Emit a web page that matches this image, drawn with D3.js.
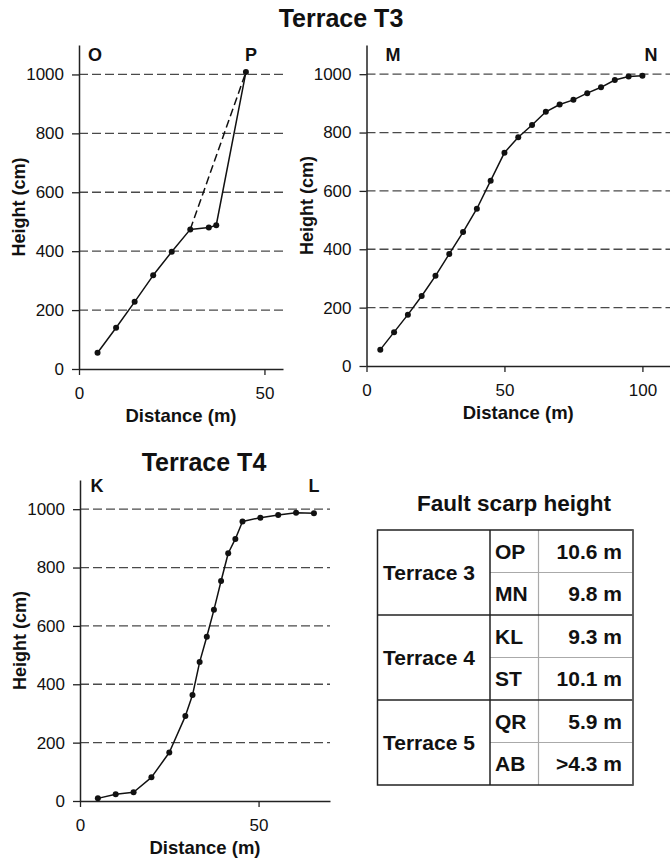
<!DOCTYPE html>
<html><head><meta charset="utf-8">
<script src="https://cdn.jsdelivr.net/npm/d3@7"></script>
<style>
body{margin:0;background:#fff}
text{font-family:"Liberation Sans",Arial,Helvetica,sans-serif;fill:#111}
</style>
</head><body>
<svg id="chart" width="670" height="864"></svg>
<script>
// ---- data ----
const opDistance = [5, 10, 15, 20, 25, 30, 35, 37, 45];
const opHeight   = [55, 140, 228, 318, 398, 474, 480, 488, 1008];
const opDashedFrom = 5, opDashedTo = 8;   // dashed shortcut between these points

const mnDistance = [5,10,15,20,25,30,35,40,45,50,55,60,65,70,75,80,85,90,95,100];
const mnHeight   = [56,116,176,240,309,384,459,539,635,731,784,826,871,896,912,935,955,980,992,995];

const klDistance = [5,10,15,20,25,29.5,31.5,33.5,35.5,37.5,39.5,41.5,43.5,45.5,50.5,55.5,60.5,65.5];
const klHeight   = [9,23,30,81,166,291,363,476,563,655,754,849,898,958,971,980,988,986];

const heightTicks = [0, 200, 400, 600, 800, 1000];
const gridTicks   = [200, 400, 600, 800, 1000];

const tableGroups   = ["Terrace 3", "Terrace 4", "Terrace 5"];
const tableProfiles = ["OP", "MN", "KL", "ST", "QR", "AB"];
const tableHeights  = ["10.6 m", "9.8 m", "9.3 m", "10.1 m", "5.9 m", ">4.3 m"];

// ---- drawing ----
const svg = d3.select("#chart");
const INK = "#111";

function panel(cfg){
  const x = d3.scaleLinear().domain([0, cfg.xMax]).range([cfg.left, cfg.right]);
  const y = d3.scaleLinear().domain([0, 1100]).range([cfg.bottom, cfg.top]);
  const g = svg.append("g");

  // gridlines
  g.selectAll("line.grid").data(gridTicks).join("line")
    .attr("x1", cfg.left).attr("x2", cfg.right)
    .attr("y1", d => y(d)).attr("y2", d => y(d))
    .attr("stroke", "#4a4a4a").attr("stroke-width", 1.3)
    .attr("stroke-dasharray", "9,4");

  // axes
  const ya = g.append("g").attr("transform", `translate(${cfg.left},0)`)
    .call(d3.axisLeft(y).tickValues(heightTicks).tickFormat(d3.format("d"))
      .tickSize(7).tickSizeOuter(0).tickPadding(8));
  const xa = g.append("g").attr("transform", `translate(0,${cfg.bottom})`)
    .call(d3.axisBottom(x).tickValues(cfg.xTicks).tickFormat(d3.format("d"))
      .tickSize(6).tickSizeOuter(0).tickPadding(12));
  [ya, xa].forEach(a => {
    a.select(".domain").attr("stroke", "#222").attr("stroke-width", 1.5);
    a.selectAll(".tick line").attr("stroke", "#222").attr("stroke-width", 1.3);
    a.selectAll(".tick text").style("font-size", "17px").attr("fill", INK)
      .style("font-family", '"Liberation Sans",Arial,sans-serif');
  });

  // axis titles
  g.append("text").attr("x", (cfg.left + cfg.right) / 2).attr("y", cfg.bottom + 53)
    .attr("text-anchor", "middle").style("font-size", "18.5px").style("font-weight", "bold")
    .text("Distance (m)");
  g.append("text")
    .attr("transform", `translate(${cfg.left - 54},${(cfg.top + cfg.bottom) / 2}) rotate(-90)`)
    .attr("text-anchor", "middle").style("font-size", "18px").style("font-weight", "bold")
    .text("Height (cm)");

  // end labels
  g.append("text").attr("x", cfg.startX).attr("y", cfg.labelY).attr("text-anchor", "middle")
    .style("font-size", "18px").style("font-weight", "bold").text(cfg.start);
  g.append("text").attr("x", cfg.endX).attr("y", cfg.labelY).attr("text-anchor", "middle")
    .style("font-size", "18px").style("font-weight", "bold").text(cfg.end);

  // profile
  const pts = cfg.xs.map((d, i) => [d, cfg.ys[i]]);
  const line = d3.line().x(d => x(d[0])).y(d => y(d[1]));
  g.append("path").attr("d", line(pts)).attr("fill", "none")
    .attr("stroke", INK).attr("stroke-width", 1.5).attr("stroke-linejoin", "round");
  if (cfg.dashed) {
    g.append("path").attr("d", line([pts[cfg.dashed[0]], pts[cfg.dashed[1]]]))
      .attr("fill", "none").attr("stroke", INK).attr("stroke-width", 1.5)
      .attr("stroke-dasharray", "8,4");
  }
  g.selectAll("circle").data(pts).join("circle")
    .attr("cx", d => x(d[0])).attr("cy", d => y(d[1])).attr("r", 3).attr("fill", INK);
}

panel({left:79, right:283, top:45, bottom:369, xMax:55, xTicks:[0,50],
  xs:opDistance, ys:opHeight, dashed:[opDashedFrom, opDashedTo],
  start:"O", end:"P", startX:95, endX:251, labelY:61});
panel({left:366.5, right:670, top:45, bottom:366, xMax:110, xTicks:[0,50,100],
  xs:mnDistance, ys:mnHeight,
  start:"M", end:"N", startX:393, endX:651, labelY:61});
panel({left:80, right:330, top:480, bottom:801, xMax:70, xTicks:[0,50],
  xs:klDistance, ys:klHeight,
  start:"K", end:"L", startX:97, endX:314, labelY:492});

// titles
svg.append("text").attr("x", 341).attr("y", 27).attr("text-anchor", "middle")
  .style("font-size", "25px").style("font-weight", "bold").text("Terrace T3");
svg.append("text").attr("x", 204).attr("y", 471).attr("text-anchor", "middle")
  .style("font-size", "25px").style("font-weight", "bold").text("Terrace T4");
svg.append("text").attr("x", 514).attr("y", 511).attr("text-anchor", "middle")
  .style("font-size", "22.5px").style("font-weight", "bold").text("Fault scarp height");

// table
const tLeft = 377.5, tMid1 = 490, tMid2 = 538.5, tRight = 633, tTop = 530, tBottom = 785;
const row = d3.scaleBand().domain(tableProfiles).range([tTop, tBottom]);
const grp = d3.scaleBand().domain(tableGroups).range([tTop, tBottom]);
const tg = svg.append("g");
const dark = "#222", light = "#aaa";

// light sub-row lines
tg.selectAll("line.sub").data(tableProfiles.filter((d, i) => i % 2 === 1)).join("line")
  .attr("x1", tMid1).attr("x2", tRight).attr("y1", d => row(d)).attr("y2", d => row(d))
  .attr("stroke", light).attr("stroke-width", 1.2);
// light column divider
tg.append("line").attr("x1", tMid2).attr("x2", tMid2).attr("y1", tTop).attr("y2", tBottom)
  .attr("stroke", light).attr("stroke-width", 1.2);
// dark group dividers
tg.selectAll("line.grp").data(tableGroups.slice(1)).join("line")
  .attr("x1", tLeft).attr("x2", tRight).attr("y1", d => grp(d)).attr("y2", d => grp(d))
  .attr("stroke", dark).attr("stroke-width", 1.5);
// dark column divider
tg.append("line").attr("x1", tMid1).attr("x2", tMid1).attr("y1", tTop).attr("y2", tBottom)
  .attr("stroke", dark).attr("stroke-width", 1.5);
// outer border
tg.append("rect").attr("x", tLeft).attr("y", tTop).attr("width", tRight - tLeft).attr("height", tBottom - tTop)
  .attr("fill", "none").attr("stroke", dark).attr("stroke-width", 1.5);
tg.append("line").attr("x1", tRight).attr("x2", tRight).attr("y1", tTop).attr("y2", tBottom)
  .attr("stroke", "#666").attr("stroke-width", 1.5);

tg.selectAll("text.grp").data(tableGroups).join("text")
  .attr("x", tLeft + 5.5).attr("y", d => grp(d) + grp.bandwidth() / 2 + 7.5)
  .style("font-size", "21px").style("font-weight", "bold").text(d => d);
tg.selectAll("text.code").data(tableProfiles).join("text")
  .attr("x", tMid1 + 5).attr("y", d => row(d) + row.bandwidth() / 2 + 7.5)
  .style("font-size", "21px").style("font-weight", "bold").text(d => d);
tg.selectAll("text.val").data(tableHeights).join("text")
  .attr("x", 622).attr("y", (d, i) => row(tableProfiles[i]) + row.bandwidth() / 2 + 7.5)
  .attr("text-anchor", "end")
  .style("font-size", "21px").style("font-weight", "bold").text(d => d);
</script>
</body></html>
